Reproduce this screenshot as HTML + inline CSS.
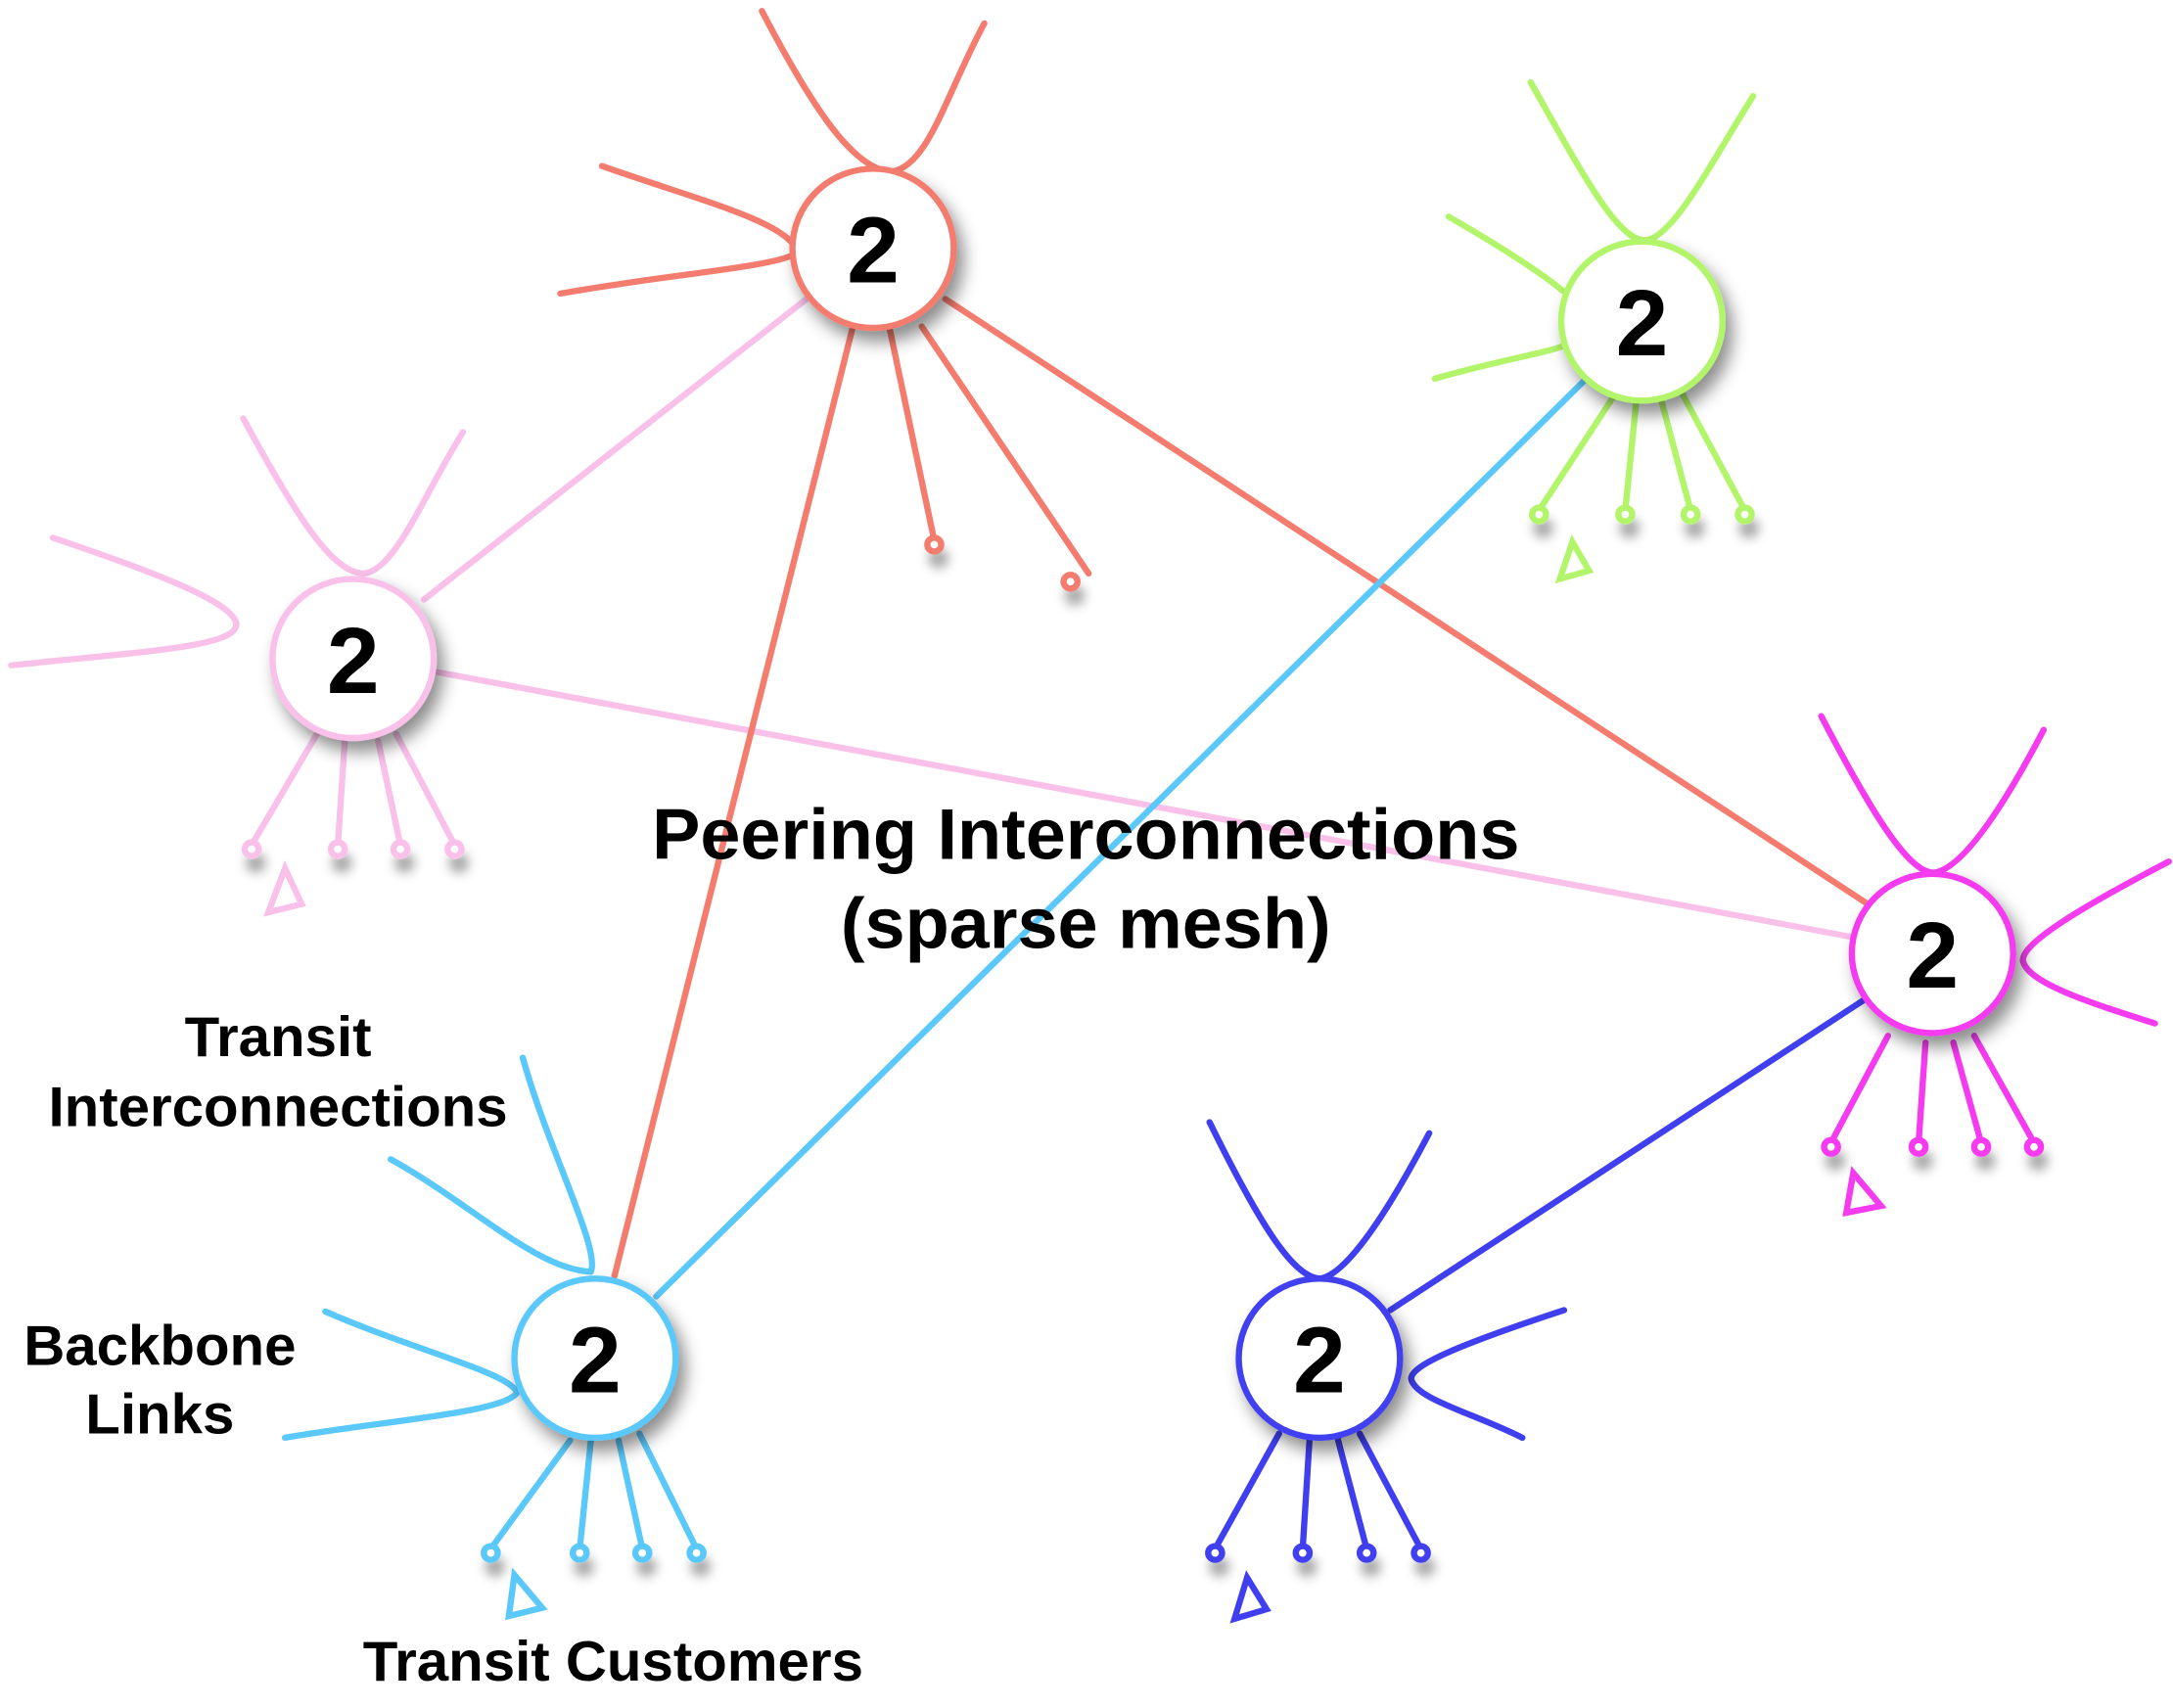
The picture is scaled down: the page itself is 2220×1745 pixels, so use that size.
<!DOCTYPE html>
<html><head><meta charset="utf-8"><style>html,body{margin:0;padding:0;background:#fff}svg{display:block}</style></head>
<body>
<svg width="2220" height="1745" viewBox="0 0 1563 1245" preserveAspectRatio="none" xmlns="http://www.w3.org/2000/svg">
<defs>
<filter id="sh" x="-50%" y="-50%" width="200%" height="200%"><feDropShadow dx="5" dy="8" stdDeviation="6" flood-color="#000" flood-opacity="0.45"/></filter>
<filter id="sh2" x="-100%" y="-100%" width="300%" height="400%"><feDropShadow dx="3" dy="10" stdDeviation="4" flood-color="#000" flood-opacity="0.35"/></filter>
</defs>
<g fill="none" stroke-width="4.5" stroke-linecap="round">
<line x1="305" y1="437" x2="580" y2="218" stroke="#f9c0ea"/>
<line x1="315" y1="490" x2="1332" y2="683" stroke="#f9c0ea"/>
<line x1="613" y1="240" x2="442" y2="930" stroke="#f47c6e"/>
<line x1="680" y1="218" x2="1345" y2="660" stroke="#f47c6e"/>
<line x1="1140" y1="277" x2="472" y2="945" stroke="#5ac8fa"/>
<line x1="1342" y1="728" x2="1000" y2="955" stroke="#3f3ff0"/>

<g stroke="#f47c6e">
<path d="M548,8 C585,80 615,125 642,125 C668,120 680,70 708,17"/>
<path d="M433,121 C500,145 560,160 572,180"/>
<path d="M403,214 C480,200 555,195 572,185"/>
<path d="M640,240 L672,394"/><path d="M663,238 L783,418"/>
<g filter="url(#sh2)" fill="#fff"><circle cx="672" cy="397" r="5"/><circle cx="770" cy="424" r="5"/></g>
</g>
<g stroke="#b2f56a">
<path d="M1101,60 C1140,130 1165,178 1185,175 C1205,170 1230,120 1261,70"/>
<path d="M1042,158 C1080,180 1110,200 1124,212"/>
<path d="M1032,276 C1080,262 1110,258 1125,252"/>
<path d="M1160,290 L1107,372"/><path d="M1177,292 L1169,372"/><path d="M1195,292 L1216,372"/><path d="M1210,287 L1255,372"/>
<g filter="url(#sh2)" fill="#fff"><circle cx="1107" cy="375" r="5"/><circle cx="1169" cy="375" r="5"/><circle cx="1216" cy="375" r="5"/><circle cx="1255" cy="375" r="5"/></g>
<path d="M1131,395 L1122,422 L1143,416 Z"/>
</g>
<g stroke="#f9c0ea">
<path d="M175,305 C215,380 240,418 262,418 C285,415 305,360 333,315"/>
<path d="M38,392 C120,420 168,440 170,455 C170,472 100,475 8,485"/>
<path d="M228,535 L181,616"/><path d="M248,540 L243,616"/><path d="M272,540 L288,616"/><path d="M285,535 L327,616"/>
<g filter="url(#sh2)" fill="#fff"><circle cx="181" cy="619" r="5"/><circle cx="243" cy="619" r="5"/><circle cx="288" cy="619" r="5"/><circle cx="327" cy="619" r="5"/></g>
<path d="M205,633 L193,665 L217,659 Z"/>
</g>
<g stroke="#f53bf0">
<path d="M1310,522 C1350,600 1375,638 1392,636 C1412,632 1440,590 1470,532"/>
<path d="M1560,628 C1490,665 1455,688 1455,700 C1458,716 1500,730 1550,746"/>
<path d="M1358,755 L1317,833"/><path d="M1385,760 L1380,833"/><path d="M1405,760 L1425,833"/><path d="M1420,755 L1463,833"/>
<g filter="url(#sh2)" fill="#fff"><circle cx="1317" cy="836" r="5"/><circle cx="1380" cy="836" r="5"/><circle cx="1425" cy="836" r="5"/><circle cx="1463" cy="836" r="5"/></g>
<path d="M1333,855 L1328,884 L1353,879 Z"/>
</g>
<g stroke="#5ac8fa">
<path d="M376,771 C395,840 432,910 425,927"/>
<path d="M281,845 C340,878 385,925 425,927"/>
<path d="M234,956 C300,985 365,1000 372,1015"/>
<path d="M205,1048 C280,1035 362,1030 372,1015"/>
<path d="M410,1050 L353,1129"/><path d="M425,1050 L417,1129"/><path d="M445,1050 L462,1129"/><path d="M460,1045 L501,1129"/>
<g filter="url(#sh2)" fill="#fff"><circle cx="353" cy="1132" r="5"/><circle cx="417" cy="1132" r="5"/><circle cx="462" cy="1132" r="5"/><circle cx="501" cy="1132" r="5"/></g>
<path d="M370,1148 L366,1178 L390,1172 Z"/>
</g>
<g stroke="#3f3ff0">
<path d="M870,818 C905,890 930,932 950,932 C970,928 1000,880 1028,826"/>
<path d="M1125,955 C1050,980 1015,995 1015,1005 C1018,1020 1060,1030 1095,1048"/>
<path d="M920,1045 L874,1129"/><path d="M942,1048 L937,1129"/><path d="M962,1048 L983,1129"/><path d="M978,1045 L1022,1129"/>
<g filter="url(#sh2)" fill="#fff"><circle cx="874" cy="1132" r="5"/><circle cx="937" cy="1132" r="5"/><circle cx="983" cy="1132" r="5"/><circle cx="1022" cy="1132" r="5"/></g>
<path d="M897,1150 L888,1180 L911,1173 Z"/>
</g>
</g>
<g fill="#fff" stroke-width="4.5" filter="url(#sh)">
<circle cx="628" cy="181" r="58" stroke="#f47c6e"/>
<circle cx="1181" cy="234" r="58" stroke="#b2f56a"/>
<circle cx="254" cy="480" r="58" stroke="#f9c0ea"/>
<circle cx="1390" cy="695" r="58" stroke="#f53bf0"/>
<circle cx="428" cy="990" r="58" stroke="#5ac8fa"/>
<circle cx="949" cy="990" r="58" stroke="#3f3ff0"/>
</g>
<g font-family="Liberation Sans, sans-serif" font-weight="bold" text-anchor="middle" fill="#000">
<g font-size="68">
<text x="628" y="206">2</text><text x="1181" y="259">2</text><text x="254" y="505">2</text>
<text x="1390" y="720">2</text><text x="428" y="1015">2</text><text x="949" y="1015">2</text>
</g>
<g font-size="52"><text x="781" y="626">Peering Interconnections</text><text x="781" y="691">(sparse mesh)</text></g>
<g font-size="41">
<text x="200" y="770">Transit</text><text x="200" y="821">Interconnections</text>
<text x="115" y="995">Backbone</text><text x="115" y="1045">Links</text>
<text x="441" y="1225">Transit Customers</text>
</g>
</g>
</svg>
</body></html>
